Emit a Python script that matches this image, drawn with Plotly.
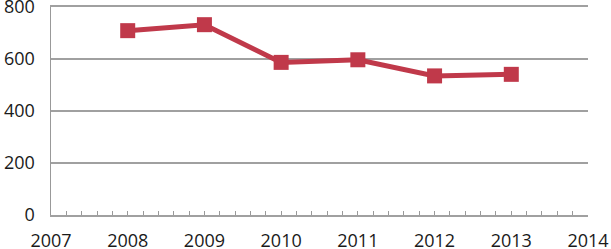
import plotly.graph_objects as go

years = [2008, 2009, 2010, 2011, 2012, 2013]
values = [709, 732, 587, 597, 535, 541]
x_ticks = [2007, 2008, 2009, 2010, 2011, 2012, 2013, 2014]
y_ticks = [0, 200, 400, 600, 800]

fig = go.Figure()
fig.add_trace(go.Scatter(
    x=years, y=values, mode="lines+markers",
    line=dict(color="#C0394A", width=5),
    marker=dict(symbol="square", size=15, color="#C0394A"),
    cliponaxis=False,
))

font = dict(family="Open Sans, sans-serif", size=18, color="#1a1a1a")
fig.update_layout(
    width=611, height=249,
    margin=dict(l=51, r=23, t=7, b=34),
    paper_bgcolor="white", plot_bgcolor="white",
    showlegend=False,
    font=font,
)
fig.update_xaxes(
    range=[2007, 2014], tickvals=x_ticks, ticktext=[str(v) for v in x_ticks],
    showgrid=False, zeroline=False, automargin=False,
    showline=True, linecolor="#A0A0A0", linewidth=2, mirror=True,
    ticks="inside", ticklen=4, tickcolor="#999999",
    minor=dict(dtick=0.2, tick0=2007, ticks="inside", ticklen=4, tickcolor="#999999", showgrid=False),
    ticklabelstandoff=8, ticklabeloverflow="allow",
)
fig.update_yaxes(
    range=[0, 800], tickvals=y_ticks,
    showgrid=True, gridcolor="#A0A0A0", gridwidth=2,
    zeroline=False, automargin=False,
    showline=True, linecolor="#999999", linewidth=1.5,
    ticks="", ticklabelstandoff=11, ticklabeloverflow="allow",
)
fig.write_html(
    "out.html",
    config={"displayModeBar": False, "staticPlot": True},
    post_script="document.body.style.margin='0px';document.body.style.overflow='hidden';",
)
